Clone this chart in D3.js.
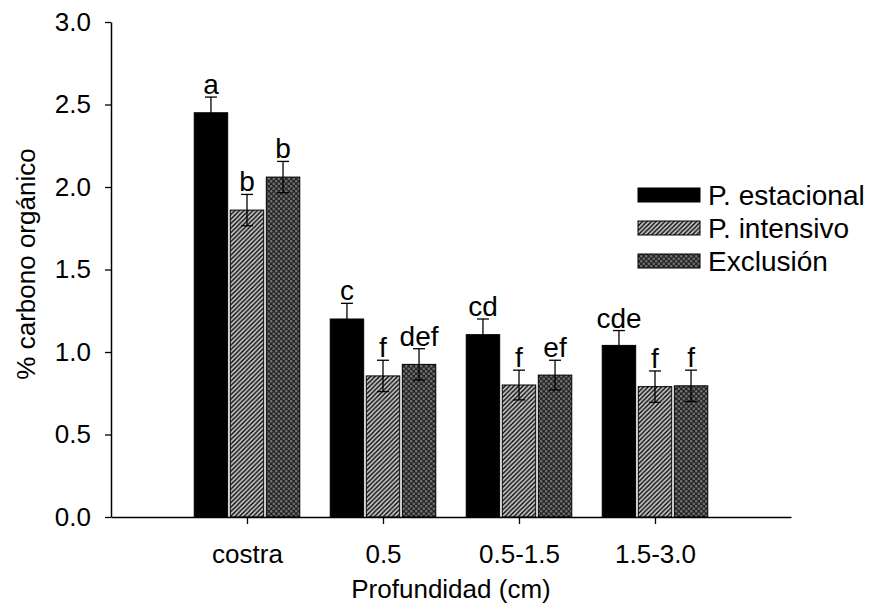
<!DOCTYPE html>
<html>
<head>
<meta charset="utf-8">
<script src="https://cdn.jsdelivr.net/npm/d3@7"></script>
<style>
  body { margin: 0; background: #fff; }
  svg { display: block; }
  text { font-family: "Liberation Sans", Arial, sans-serif; fill: #000; }
</style>
</head>
<body>
<svg id="chart" width="873" height="614"></svg>
<script>
const categories = ["costra", "0.5", "0.5-1.5", "1.5-3.0"];
const seriesNames = ["P. estacional", "P. intensivo", "Exclusión"];
const estacional = [2.45, 1.20, 1.105, 1.04];
const intensivo  = [1.86, 0.855, 0.80, 0.79];
const exclusion  = [2.06, 0.925, 0.86, 0.795];
const errEstacional = [0.095, 0.095, 0.095, 0.09];
const errIntensivo  = [0.095, 0.095, 0.09, 0.095];
const errExclusion  = [0.095, 0.095, 0.09, 0.095];
const lettersEstacional = ["a", "c", "cd", "cde"];
const lettersIntensivo  = ["b", "f", "f", "f"];
const lettersExclusion  = ["b", "def", "ef", "f"];
const yTicks = [0.0, 0.5, 1.0, 1.5, 2.0, 2.5, 3.0];

const series = [
  {name: seriesNames[0], values: estacional, errs: errEstacional, letters: lettersEstacional, fill: "#000", off: -0.265},
  {name: seriesNames[1], values: intensivo,  errs: errIntensivo,  letters: lettersIntensivo,  fill: "url(#hatch)", off: 0},
  {name: seriesNames[2], values: exclusion,  errs: errExclusion,  letters: lettersExclusion,  fill: "url(#cross)", off: 0.265}
];

const svg = d3.select("#chart");
const defs = svg.append("defs");

// diagonal hatch
const hatch = defs.append("pattern").attr("id", "hatch")
  .attr("patternUnits", "userSpaceOnUse").attr("width", 4.5).attr("height", 4.5);
hatch.append("rect").attr("width", 4.5).attr("height", 4.5).attr("fill", "#c4c4c4");
hatch.append("path").attr("d", "M-1,5.5 L5.5,-1 M-1,1 L1,-1 M3.5,5.5 L5.5,3.5")
  .attr("stroke", "#000").attr("stroke-width", 1.3);

// cross hatch
const cross = defs.append("pattern").attr("id", "cross")
  .attr("patternUnits", "userSpaceOnUse").attr("width", 5).attr("height", 5);
cross.append("rect").attr("width", 5).attr("height", 5).attr("fill", "#262626");
cross.append("circle").attr("cx", 1.25).attr("cy", 1.25).attr("r", 1.3).attr("fill", "#707070");
cross.append("circle").attr("cx", 3.75).attr("cy", 3.75).attr("r", 1.3).attr("fill", "#707070");

const x = d3.scaleLinear().domain([0, 5]).range([111, 791]);
const y = d3.scaleLinear().domain([0, 3]).range([517, 22]);
const barW = x(0.246) - x(0);

// bars
series.forEach(s => {
  const g = svg.append("g");
  categories.forEach((c, i) => {
    const cx = x(i + 1 + s.off);
    g.append("rect")
      .attr("x", cx - barW / 2).attr("y", y(s.values[i]))
      .attr("width", barW).attr("height", y(0) - y(s.values[i]))
      .attr("fill", s.fill).attr("stroke", "#000").attr("stroke-width", 1);
    const top = y(s.values[i] + s.errs[i]);
    const bot = y(s.values[i] - s.errs[i]);
    g.append("line").attr("x1", cx).attr("x2", cx).attr("y1", top).attr("y2", bot)
      .attr("stroke", "#000").attr("stroke-width", 1.3);
    g.append("line").attr("x1", cx - 6).attr("x2", cx + 6).attr("y1", top).attr("y2", top)
      .attr("stroke", "#000").attr("stroke-width", 1.3);
    g.append("line").attr("x1", cx - 6).attr("x2", cx + 6).attr("y1", bot).attr("y2", bot)
      .attr("stroke", "#000").attr("stroke-width", 1.3);
    g.append("text").attr("x", cx).attr("y", top - 3)
      .attr("text-anchor", "middle").style("font-size", "28px")
      .text(s.letters[i]);
  });
});

// axes
const yAxis = d3.axisLeft(y).tickValues(yTicks).tickFormat(d3.format(".1f"))
  .tickSize(6).tickSizeOuter(0).tickPadding(14);
const gy = svg.append("g").attr("transform", "translate(111,0)").call(yAxis);
gy.selectAll("text").style("font-size", "26px");

const xAxis = d3.axisBottom(x).tickValues([1, 2, 3, 4]).tickFormat(d => categories[d - 1])
  .tickSize(7).tickSizeOuter(0).tickPadding(21);
const gx = svg.append("g").attr("transform", "translate(0,517)").call(xAxis);
gx.selectAll("text").style("font-size", "26px");

[gx, gy].forEach(g => {
  g.select(".domain").attr("stroke", "#000").attr("stroke-width", 1.5);
  g.selectAll(".tick line").attr("stroke", "#000").attr("stroke-width", 1.3);
});

// titles
svg.append("text").attr("x", x(2.5)).attr("y", 598)
  .attr("text-anchor", "middle").style("font-size", "26px").text("Profundidad (cm)");
svg.append("text").attr("transform", "translate(35,264) rotate(-90)")
  .attr("text-anchor", "middle").style("font-size", "26px").text("% carbono orgánico");

// legend
const legend = svg.append("g");
series.forEach((s, i) => {
  const cy = 195 + i * 33;
  legend.append("rect").attr("x", 638).attr("y", cy - 7).attr("width", 62).attr("height", 14)
    .attr("fill", s.fill).attr("stroke", "#000").attr("stroke-width", 1);
  legend.append("text").attr("x", 708).attr("y", cy).attr("dy", "0.35em")
    .style("font-size", "28px").text(s.name);
});
</script>
</body>
</html>
